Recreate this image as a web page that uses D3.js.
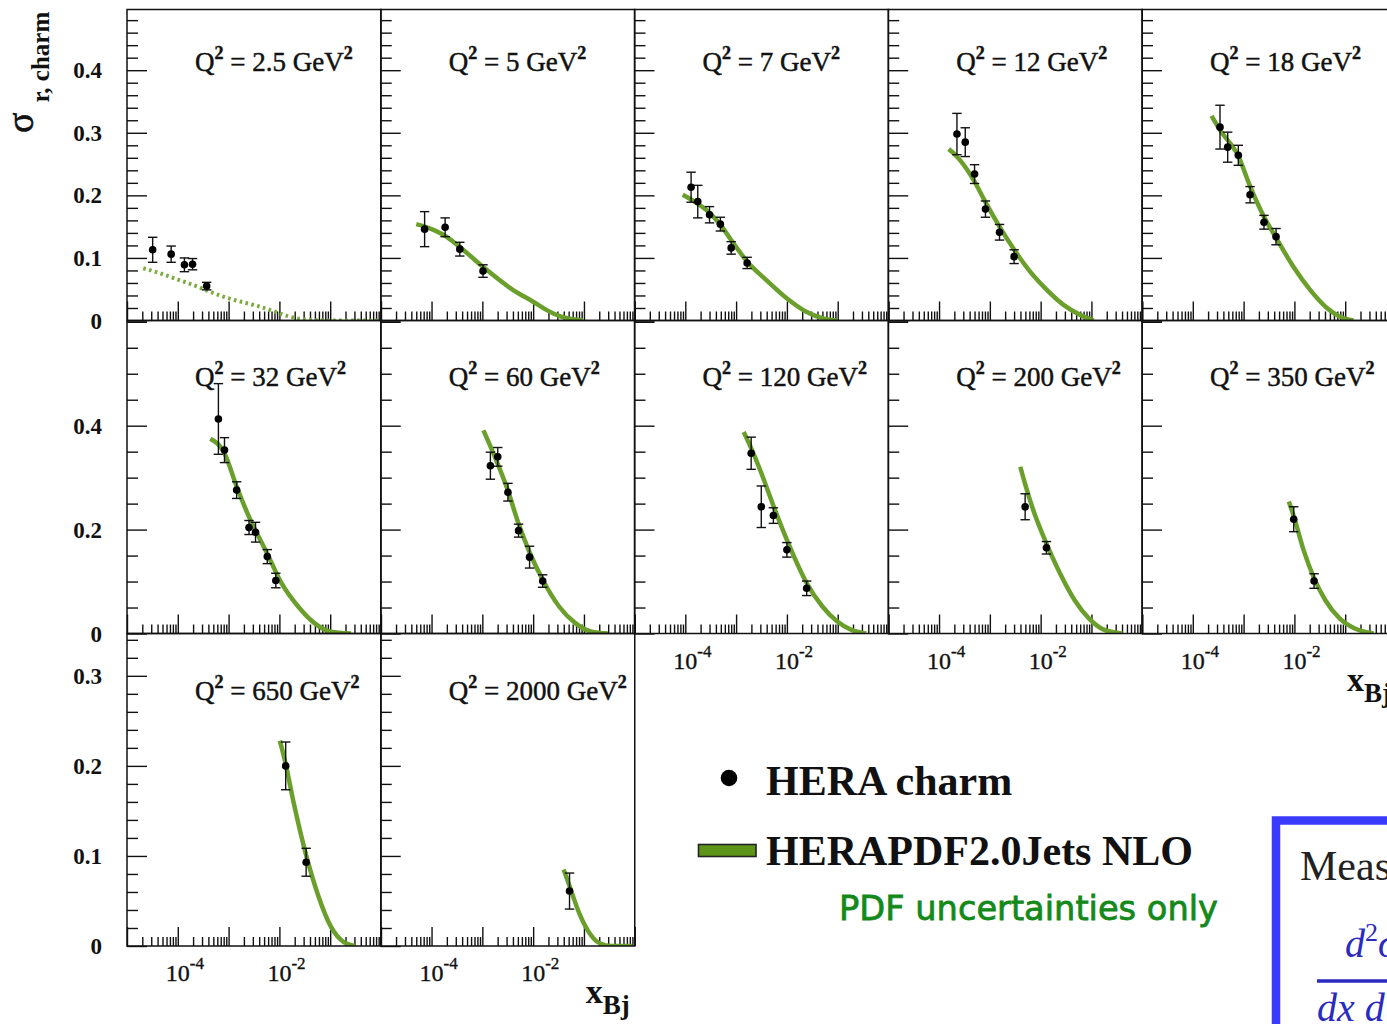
<!DOCTYPE html>
<html><head><meta charset="utf-8">
<script src="https://cdn.jsdelivr.net/npm/d3@7"></script>
<style>html,body{margin:0;padding:0;background:#fff;overflow:hidden}</style>
</head><body>
<svg id="chart" width="1387" height="1024"></svg>
<script>
// ---------------- data ----------------
const q2Labels = ["2.5","5","7","12","18","32","60","120","200","350","650","2000"];

const pointsX = [
 [3.2e-5, 7.4e-5, 1.35e-4, 1.95e-4, 3.7e-4],
 [7.3e-5, 1.85e-4, 3.6e-4, 1.03e-3],
 [1.3e-4, 1.76e-4, 3.0e-4, 4.9e-4, 8.0e-4, 1.65e-3],
 [2.25e-4, 3.28e-4, 5.0e-4, 8.2e-4, 1.55e-3, 3.0e-3],
 [3.43e-4, 4.86e-4, 7.87e-4, 1.34e-3, 2.52e-3, 4.35e-3],
 [6.3e-4, 8.3e-4, 1.44e-3, 2.52e-3, 3.39e-3, 5.78e-3, 8.5e-3],
 [1.44e-3, 2.01e-3, 3.19e-3, 5.16e-3, 8.5e-3, 1.54e-2],
 [1.98e-3, 3.13e-3, 5.42e-3, 1.0e-2, 2.45e-2],
 [4.95e-3, 1.3e-2],
 [9.7e-3, 2.44e-2],
 [1.33e-2, 3.36e-2],
 [5.2e-2]
];
const pointsY = [
 [0.113, 0.106, 0.089, 0.090, 0.055],
 [0.146, 0.149, 0.114, 0.079],
 [0.213, 0.190, 0.169, 0.154, 0.116, 0.092],
 [0.298, 0.285, 0.234, 0.178, 0.141, 0.102],
 [0.309, 0.277, 0.264, 0.201, 0.157, 0.134],
 [0.413, 0.353, 0.276, 0.204, 0.195, 0.148, 0.102],
 [0.323, 0.340, 0.272, 0.198, 0.147, 0.101],
 [0.347, 0.244, 0.227, 0.161, 0.087],
 [0.244, 0.165],
 [0.220, 0.101],
 [0.200, 0.093],
 [0.061]
];
const pointsErr = [
 [0.020, 0.013, 0.011, 0.009, 0.006],
 [0.028, 0.015, 0.011, 0.010],
 [0.024, 0.026, 0.013, 0.011, 0.010, 0.009],
 [0.033, 0.023, 0.015, 0.013, 0.0125, 0.011],
 [0.035, 0.024, 0.016, 0.013, 0.011, 0.013],
 [0.068, 0.024, 0.016, 0.0135, 0.019, 0.0135, 0.014],
 [0.026, 0.018, 0.017, 0.0125, 0.021, 0.012],
 [0.031, 0.040, 0.015, 0.014, 0.014],
 [0.025, 0.012],
 [0.024, 0.014],
 [0.0265, 0.0155],
 [0.020]
];
// HERAPDF2.0Jets NLO prediction, read along each band
const curveX = [
 [2.09e-5, 4.47e-5, 9.55e-5, 2.0e-4, 4.27e-4, 9.1e-4, 1.95e-3, 4.17e-3, 8.9e-3, 1.62e-2, 2.95e-2, 0.115, 0.99],
 [5.0e-5, 7.4e-5, 1.95e-4, 3.55e-4, 1.02e-3, 3.98e-3, 1.0e-2, 1.82e-2, 3.31e-2, 6.17e-2, 9.55e-2],
 [8.9e-5, 1.32e-4, 3.02e-4, 4.9e-4, 7.94e-4, 1.66e-3, 3.89e-3, 9.77e-3, 2.4e-2, 5.13e-2, 0.1],
 [1.55e-4, 2.24e-4, 5.0e-4, 8.1e-4, 1.55e-3, 3.02e-3, 6.2e-3, 1.32e-2, 2.82e-2, 6.0e-2, 0.11],
 [2.34e-4, 3.39e-4, 7.94e-4, 1.35e-3, 2.51e-3, 4.37e-3, 9.55e-3, 2.04e-2, 4.37e-2, 7.94e-2, 0.145],
 [4.37e-4, 8.3e-4, 1.45e-3, 2.51e-3, 5.75e-3, 1.1e-2, 2.34e-2, 4.9e-2, 0.102, 0.257],
 [1.05e-3, 2.0e-3, 3.16e-3, 5.13e-3, 8.7e-3, 1.55e-2, 3.24e-2, 6.76e-2, 0.141, 0.295],
 [1.41e-3, 2.0e-3, 3.16e-3, 5.37e-3, 1.0e-2, 2.45e-2, 5.0e-2, 9.8e-2, 0.186, 0.363],
 [3.98e-3, 4.9e-3, 7.94e-3, 1.29e-2, 2.4e-2, 4.68e-2, 8.9e-2, 0.17, 0.41],
 [7.76e-3, 9.77e-3, 1.51e-2, 2.45e-2, 4.07e-2, 7.76e-2, 0.151, 0.363],
 [1.02e-2, 1.32e-2, 1.91e-2, 3.39e-2, 5.89e-2, 0.102, 0.178, 0.309],
 [3.98e-2, 5.25e-2, 8.13e-2, 0.117, 0.204, 0.355, 0.89]
];
const curveY = [
 [0.0835, 0.0755, 0.066, 0.0568, 0.046, 0.0365, 0.029, 0.022, 0.013, 0.006, 0.002, 0, 0],
 [0.154, 0.150, 0.134, 0.118, 0.086, 0.049, 0.030, 0.017, 0.007, 0.002, 0],
 [0.201, 0.193, 0.172, 0.153, 0.129, 0.094, 0.065, 0.036, 0.014, 0.0035, 0],
 [0.274, 0.262, 0.222, 0.190, 0.150, 0.113, 0.078, 0.049, 0.025, 0.009, 0],
 [0.327, 0.305, 0.262, 0.214, 0.166, 0.132, 0.086, 0.049, 0.020, 0.006, 0],
 [0.375, 0.347, 0.282, 0.225, 0.154, 0.097, 0.052, 0.020, 0.0035, 0],
 [0.391, 0.327, 0.276, 0.212, 0.154, 0.103, 0.052, 0.020, 0.0035, 0],
 [0.388, 0.356, 0.308, 0.247, 0.180, 0.097, 0.052, 0.023, 0.007, 0],
 [0.321, 0.289, 0.225, 0.174, 0.116, 0.064, 0.029, 0.008, 0],
 [0.254, 0.225, 0.161, 0.106, 0.064, 0.029, 0.010, 0],
 [0.228, 0.203, 0.159, 0.100, 0.055, 0.022, 0.005, 0],
 [0.085, 0.066, 0.036, 0.018, 0.003, 0, 0]
];
const rowYMax = [0.497, 0.6025, 0.347];
const rowYMajor = [[0,0.1,0.2,0.3,0.4], [0,0.2,0.4,0.6], [0,0.1,0.2,0.3]];
const rowYMinorStep = [0.02, 0.05, 0.02];
const rowYLabels = [["0","0.1","0.2","0.3","0.4"], ["0","0.2","0.4"], ["0","0.1","0.2","0.3"]];
const xDecades = [1e-5, 1e-4, 1e-3, 1e-2, 1e-1, 1];
const xLabelValues = [1e-4, 1e-2];
const xLabelExponents = ["-4", "-2"];
const xLabelPanels = [7, 8, 9, 10, 11];
const legendLabels = ["HERA charm", "HERAPDF2.0Jets NLO", "PDF uncertainties only"];

// ---------------- layout ----------------
const svg = d3.select("#chart");
svg.append("rect").attr("width",1387).attr("height",1024).attr("fill","#fff");
const SERIF = "'Liberation Serif','Times New Roman',serif";
const panelW = 254;
const rowTop = [9.5, 320.5, 633.5], rowBot = [320.5, 633.5, 946];
const titleBase = [71, 386, 700];
const curveColor = "#6b9f2c";

function panelPos(i){
  if (i < 5) return {row:0, col:i};
  if (i < 10) return {row:1, col:i-5};
  return {row:2, col:i-10};
}

const defs = svg.append("defs");

q2Labels.forEach((lab, i) => {
  const {row, col} = panelPos(i);
  const left = 127 + col*253.75, right = left + panelW;
  const top = rowTop[row], bot = rowBot[row];
  const x = d3.scaleLog().domain([1e-5, 1]).range([left, right]);
  const y = d3.scaleLinear().domain([0, rowYMax[row]]).range([bot, top]);
  const g = svg.append("g");

  defs.append("clipPath").attr("id","clip"+i).append("rect")
    .attr("x",left).attr("y",top).attr("width",panelW).attr("height",bot-top);

  // y ticks (inside, on the left)
  const minors = d3.range(0, rowYMax[row]+1e-9, rowYMinorStep[row]).filter(v => !rowYMajor[row].some(m => Math.abs(m-v)<1e-6));
  const yMinorAxis = d3.axisLeft(y).tickValues(minors).tickSize(-11).tickFormat("");
  const yMajorAxis = d3.axisLeft(y).tickValues(rowYMajor[row].filter(v=>v<=rowYMax[row]+0.001)).tickSize(-20).tickFormat("");
  [yMinorAxis, yMajorAxis].forEach(ax => {
    const a = g.append("g").attr("transform",`translate(${left},0)`).call(ax);
    a.select(".domain").remove();
    a.selectAll("line").attr("stroke","#111").attr("stroke-width",1.4);
  });

  // x ticks (inside, at the bottom)
  const xMinor = [];
  xDecades.slice(0,5).forEach(d => { for (let k=2;k<=9;k++) xMinor.push(d*k); });
  const xMinorAxis = d3.axisBottom(x).tickValues(xMinor).tickSize(-9).tickFormat("");
  const xMajorAxis = d3.axisBottom(x).tickValues(xDecades).tickSize(-19).tickFormat("");
  [xMinorAxis, xMajorAxis].forEach(ax => {
    const a = g.append("g").attr("transform",`translate(0,${bot})`).call(ax);
    a.select(".domain").remove();
    a.selectAll("line").attr("stroke","#111").attr("stroke-width",1.4);
  });

  // prediction band
  const line = d3.line().x(d=>x(d[0])).y(d=>y(d[1])).curve(d3.curveMonotoneX);
  const pts = curveX[i].map((v,k)=>[v, curveY[i][k]]);
  const path = g.append("path").attr("d", line(pts)).attr("fill","none")
    .attr("stroke", curveColor).attr("stroke-width", i===0 ? 4 : 4.5)
    .attr("clip-path", `url(#clip${i})`);
  if (i === 0) path.attr("stroke-dasharray","2.6 3.4").attr("stroke","#7aab3e");

  // data with error bars
  const data = pointsX[i].map((v,k)=>({x:v, y:pointsY[i][k], e:pointsErr[i][k]}));
  const eg = g.append("g").attr("stroke","#111").attr("stroke-width",1.4);
  data.forEach(d => {
    const cx = x(d.x);
    eg.append("line").attr("x1",cx).attr("x2",cx).attr("y1",y(d.y-d.e)).attr("y2",y(d.y+d.e));
    eg.append("line").attr("x1",cx-4.7).attr("x2",cx+4.7).attr("y1",y(d.y-d.e)).attr("y2",y(d.y-d.e));
    eg.append("line").attr("x1",cx-4.7).attr("x2",cx+4.7).attr("y1",y(d.y+d.e)).attr("y2",y(d.y+d.e));
  });
  g.selectAll("circle.pt").data(data).enter().append("circle").attr("class","pt")
    .attr("cx",d=>x(d.x)).attr("cy",d=>y(d.y)).attr("r",3.8).attr("fill","#000");

  // frame
  g.append("rect").attr("x",left).attr("y",top).attr("width",panelW).attr("height",bot-top)
    .attr("fill","none").attr("stroke","#111").attr("stroke-width",1.5);

  // title
  const t = g.append("text").attr("x",left+68).attr("y",titleBase[row])
    .attr("font-family",SERIF).attr("font-size",27).attr("fill","#111")
    .attr("stroke","#111").attr("stroke-width",0.45);
  t.append("tspan").text("Q");
  t.append("tspan").attr("dy",-12).attr("font-size",18).attr("font-weight","bold").text("2");
  t.append("tspan").attr("dy",12).text(" = " + lab + " GeV");
  t.append("tspan").attr("dy",-12).attr("font-size",18).attr("font-weight","bold").text("2");

  // y tick labels in first column
  if (col === 0) {
    rowYLabels[row].forEach(s => {
      g.append("text").attr("x",102).attr("y",y(+s)).attr("dy","0.35em")
        .attr("text-anchor","end").attr("font-family",SERIF).attr("font-weight","bold")
        .attr("font-size",23).attr("fill","#111").text(s);
    });
  }
  // x tick labels under the bottom panels
  if (xLabelPanels.includes(i)) {
    xLabelValues.forEach((v,k) => {
      const tx = g.append("text").attr("x", x(v)-12).attr("y", bot+35)
        .attr("font-family",SERIF).attr("font-size",24).attr("fill","#111")
        .attr("stroke","#111").attr("stroke-width",0.35);
      tx.append("tspan").text("10");
      tx.append("tspan").attr("dy",-12).attr("font-size",17).text(xLabelExponents[k]);
    });
  }
  // x axis title at the end of each bottom row
  if (i === 9 || i === 11) {
    const xt = g.append("text").attr("x", right-49).attr("y", bot+57)
      .attr("font-family",SERIF).attr("font-weight","bold").attr("fill","#111");
    xt.append("tspan").attr("font-size",34).text("x");
    xt.append("tspan").attr("font-size",27).attr("dy",11).text("Bj");
  }
});

// y axis title
const yt = svg.append("text").attr("transform","translate(33,133) rotate(-90)")
  .attr("font-family",SERIF).attr("fill","#111");
yt.append("tspan").attr("font-size",38).attr("stroke","#111").attr("stroke-width",0.6).text("σ");
yt.append("tspan").attr("font-size",25).attr("font-weight","bold").attr("dx",10).attr("dy",16).text("r, charm");

// legend
svg.append("circle").attr("cx",729).attr("cy",778).attr("r",8.3).attr("fill","#000");
svg.append("text").attr("x",766).attr("y",795).attr("font-family",SERIF).attr("font-weight","bold")
  .attr("font-size",42).attr("fill","#111").text(legendLabels[0]);
svg.append("rect").attr("x",698.5).attr("y",844.5).attr("width",57.5).attr("height",12)
  .attr("fill","#5e9417").attr("stroke","#222").attr("stroke-width",1.6);
svg.append("text").attr("x",766).attr("y",865).attr("font-family",SERIF).attr("font-weight","bold")
  .attr("font-size",42).attr("fill","#111").text(legendLabels[1]);
svg.append("text").attr("x",839).attr("y",920).attr("font-family","'Comic Sans MS','DejaVu Sans',sans-serif")
  .attr("font-size",34).attr("fill","#14891a").attr("stroke","#14891a").attr("stroke-width",0.8)
  .attr("textLength",379).attr("lengthAdjust","spacingAndGlyphs")
  .text(legendLabels[2]);

// cut-off blue box at the bottom right
svg.append("rect").attr("x",1276).attr("y",820.5).attr("width",200).attr("height",300)
  .attr("fill","#fff").attr("stroke","#3b3bff").attr("stroke-width",8.5);
svg.append("text").attr("x",1300).attr("y",880).attr("font-family",SERIF).attr("font-size",42)
  .attr("fill","#222").text("Meas");
const num = svg.append("text").attr("x",1345).attr("y",957).attr("font-family",SERIF)
  .attr("font-style","italic").attr("font-size",40).attr("fill","#2a2ac0");
num.append("tspan").text("d");
num.append("tspan").attr("dy",-16).attr("font-size",26).attr("font-style","normal").text("2");
num.append("tspan").attr("dy",16).text("σ");
svg.append("line").attr("x1",1317).attr("x2",1400).attr("y1",981).attr("y2",981)
  .attr("stroke","#2a2ac0").attr("stroke-width",3.5);
svg.append("text").attr("x",1317).attr("y",1021).attr("font-family",SERIF)
  .attr("font-style","italic").attr("font-size",40).attr("fill","#2a2ac0").text("dx d");
</script>
</body></html>
